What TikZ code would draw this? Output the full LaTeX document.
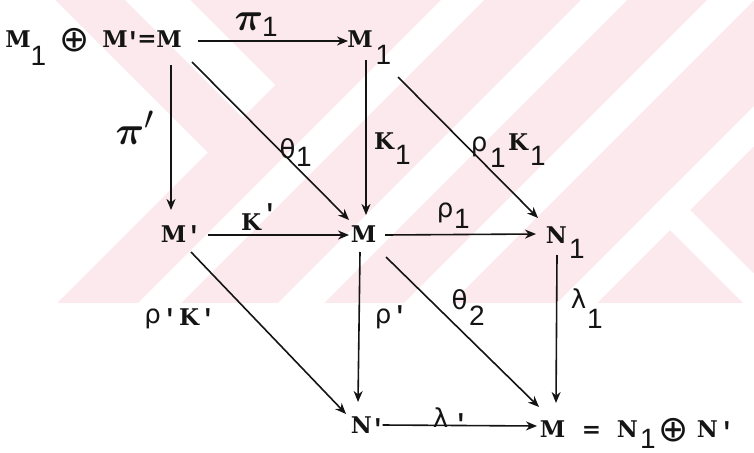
\documentclass[tikz,border=0pt]{standalone}
\usepackage{fontspec}
\usepackage{bm}
\usetikzlibrary{arrows.meta,calc}
\newfontfamily\twf{DejaVu Serif}
\newfontfamily\lmono{Liberation Mono}
\newfontfamily\lsf{Liberation Sans}
\newfontfamily\djv{DejaVu Sans}
\newcommand\tw[1]{#1}
\definecolor{wm}{RGB}{252,233,237}
\definecolor{ink}{RGB}{20,20,20}
\tikzset{
 lt/.style={inner sep=0pt, text=ink, font=\twf\bfseries\fontsize{23}{26}\selectfont},
 sb/.style={inner sep=0pt, text=ink, font=\lsf\fontsize{28}{30}\selectfont},
 gk/.style={inner sep=0pt, text=ink, font=\djv\fontsize{26}{28}\selectfont},
 pk/.style={inner sep=0pt, text=ink, font=\fontsize{24.88}{28}\selectfont},
 pr/.style={inner sep=0pt, anchor=north, text=ink, font=\lmono\bfseries\fontsize{26}{28}\selectfont},
 eq/.style={inner sep=0pt, anchor=base, text=ink, font=\twf\bfseries\fontsize{23}{26}\selectfont},
 op/.style={inner sep=0pt, text=ink, font=\djv\fontsize{36}{38}\selectfont},
 arr/.style={draw=ink, line width=1.6pt, -{Stealth[length=11pt,width=9pt,inset=3.5pt]}},
}
\begin{document}
\begin{tikzpicture}[x=1pt,y=-1pt]
\useasboundingbox (0,0) rectangle (754,452);
% faint watermark
\begin{scope}
\clip (0,0) rectangle (754,303);
\fill[wm] (0,0) rectangle (754,303);
\fill[white] (-10,-10) -- (55,-10) -- (55,0) -- (207.5,152.5) -- (-100,460) -- cycle;
\fill[white] (125,-10) -- (190,-10) -- (190,0) -- (275,85) -- (242.5,117.5) -- (125,0) -- cycle;
\foreach \a/\b in {441/484,581/627,707/754,860/900}{
  \fill[white] (\a+10,-10) -- (\b+10,-10) -- (\b-400,400) -- (\a-400,400) -- cycle;
}
\fill[white] (650,210) -- (670,190) -- (1000,520) -- (980,540) -- cycle;
\end{scope}

% top row
\node[lt] (a1) at (18,39.5) {\tw{M}};
\node[sb] (a1s) at (38.5,56) {1};
\node[op] (aop) at (75,40) {⊕};
\node[lt] (a2) at (115,39.5) {\tw{M}};
\node[pr] (a2p) at (133,31) {\textquotesingle};
\node[eq] (aeq) at (147,47) {=};
\node[lt] (TL) at (169,39.5) {\tw{M}};
\node[lt] (TR) at (360,39.5) {\tw{M}};
\node[sb] (TRs) at (383.5,55) {1};
% middle row
\node[lt] (ML) at (173.5,234.5) {\tw{M}};
\node[pr] (MLp) at (194,225) {\textquotesingle};
\node[lt] (C) at (363.5,234.5) {\tw{M}};
\node[lt] (MR) at (556.5,235.5) {\tw{N}};
\node[sb] (MRs) at (577,249) {1};
% bottom row
\node[lt] (BL) at (361.5,425.5) {\tw{N}};
\node[pr] (BLp) at (378,418) {\textquotesingle};
\node[lt] (BR) at (552.5,429.5) {\tw{M}};
\node[eq] (beq) at (591.5,437) {\tw{=}};
\node[lt] (bN) at (627.5,429.5) {\tw{N}};
\node[sb] (bNs) at (648,439) {1};
\node[op] (bop) at (674,430) {⊕};
\node[lt] (bN2) at (707.5,429.5) {\tw{N}};
\node[pr] (bN2p) at (727,421) {\textquotesingle};

% labels
\node[pk] (lpi1) at (249,22) {\scalebox{1.6}{$\bm{\pi}$}};
\node[sb] (lpi1s) at (270,27) {1};
\node[pk] (lpip) at (135,128) {\scalebox{1.6}{$\bm{\pi}'$}};
\node[gk] (lth1) at (287.5,148.5) {θ};
\node[sb] (lth1s) at (304,157) {1};
\node[lt] (lK1) at (384,141.5) {\tw{K}};
\node[sb] (lK1s) at (403,155) {1};
\node[gk] (lrk1) at (479,147) {ρ};
\node[sb] (lrk1s) at (498,158) {1};
\node[lt] (lrk2) at (518,142.5) {\tw{K}};
\node[sb] (lrk2s) at (538,155.5) {1};
\node[lt] (lKp) at (251,222.5) {\tw{K}};
\node[pr] (lKpp) at (270,203) {\textquotesingle};
\node[gk] (lrho1) at (445,212.5) {ρ};
\node[sb] (lrho1s) at (462,219) {1};
\node[gk] (llam1) at (578.5,299) {λ};
\node[sb] (llam1s) at (595,318.5) {1};
\node[gk] (lrKa) at (152.5,319) {ρ};
\node[pr] (lrKap) at (170,308) {\textquotesingle};
\node[lt] (lrKb) at (189,317.5) {\tw{K}};
\node[pr] (lrKbp) at (208,308) {\textquotesingle};
\node[gk] (lrp) at (383,319) {ρ};
\node[pr] (lrpp) at (400,305) {\textquotesingle};
\node[gk] (lth2) at (459.5,300) {θ};
\node[sb] (lth2s) at (477,316) {2};
\node[gk] (llamp) at (440.5,417.5) {λ};
\node[pr] (llampp) at (461,413) {\textquotesingle};

% arrows
\draw[arr] ($(TL)+(29,1.5)$) -- ($(TR)+(-12,1.5)$);
\draw[arr] ($(TL)+(2,25.5)$) -- ($(ML)+(-2.5,-24.5)$);
\draw[arr] ($(TL)+(23,22.5)$) -- ($(C)+(-14.5,-14.5)$);
\draw[arr] ($(TR)+(6,20.5)$) -- ($(C)+(2.5,-19.5)$);
\draw[arr] ($(TR)+(38,37.5)$) -- ($(MR)+(-18.5,-17.5)$);
\draw[arr] ($(ML)+(34,0.5)$) -- ($(C)+(-14.5,0.5)$);
\draw[arr] ($(C)+(21.5,0.5)$) -- ($(MR)+(-20.5,-1.5)$);
\draw[arr] ($(ML)+(17.5,17.5)$) -- ($(BL)+(-15.5,-11.5)$);
\draw[arr] ($(C)+(-3.5,17.5)$) -- ($(BL)+(-3.5,-23.5)$);
\draw[arr] ($(C)+(22.5,22.5)$) -- ($(BR)+(-13.5,-22.5)$);
\draw[arr] ($(MR)+(0.5,19.5)$) -- ($(BR)+(3.5,-26.5)$);
\draw[arr] ($(BL)+(21,-0.5)$) -- ($(BR)+(-15.5,-3.5)$);
\end{tikzpicture}
\end{document}
